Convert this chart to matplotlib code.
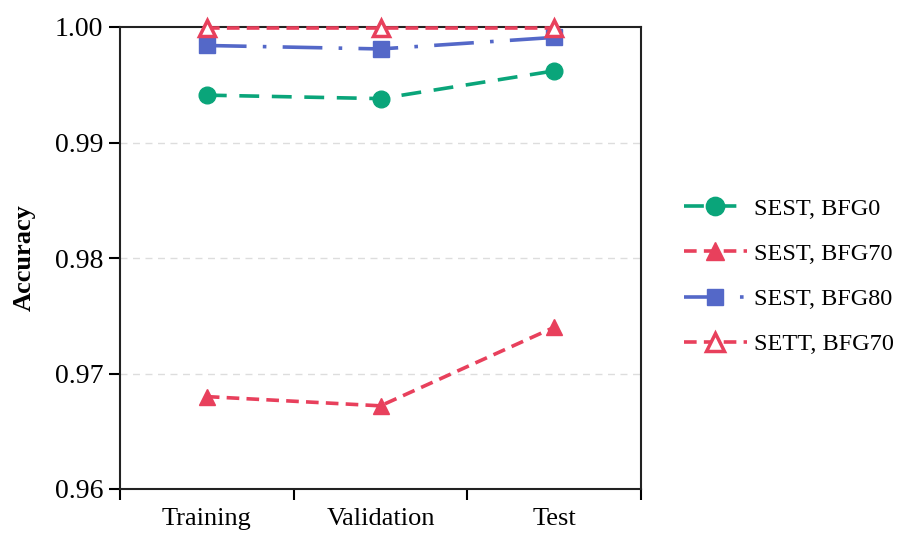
import matplotlib
matplotlib.use("Agg")
import matplotlib.pyplot as plt
import numpy as np

categories = ["Training", "Validation", "Test"]
sest_bfg0 = [0.9941, 0.9938, 0.9962]
sest_bfg70 = [0.9680, 0.9672, 0.9740]
sest_bfg80 = [0.9984, 0.9981, 0.9991]
sett_bfg70 = [0.9999, 0.9999, 0.9999]
yticks = [0.96, 0.97, 0.98, 0.99, 1.00]

plt.rcParams['font.family'] = ['Liberation Serif', 'DejaVu Serif']

fig = plt.figure(figsize=(9.19, 5.34), dpi=100)
ax = fig.add_axes([120/919, 1-489/534, (641-120)/919, (489-27)/534])

x = np.arange(len(categories)) + 0.5
green = "#0aa57a"
red = "#e8405c"
blue = "#5468c8"

ax.plot(x, sest_bfg0, color=green, ls=(0, (5.5, 3.5)), lw=2.6, marker='o', ms=12,
        label="SEST, BFG0", clip_on=False, zorder=3)
ax.plot(x, sest_bfg70, color=red, ls=(0, (3.5, 2)), lw=2.6, marker='^', ms=12,
        label="SEST, BFG70", clip_on=False, zorder=3)
ax.plot(x, sest_bfg80, color=blue, ls=(0, (11, 4.5, 1, 4.5)), lw=2.6, marker='s', ms=11,
        label="SEST, BFG80", clip_on=False, zorder=3)
ax.plot(x, sett_bfg70, color=red, ls=(0, (3.5, 2)), lw=2.6, marker='^', ms=12,
        markerfacecolor='white', markeredgewidth=2.5, label="SETT, BFG70",
        clip_on=False, zorder=4)

ax.set_xlim(0, 3)
ax.set_ylim(0.96, 1.00)
ax.set_yticks(yticks)
ax.set_yticklabels([f"{v:.2f}" for v in yticks])
ax.set_xticks([0, 1, 2, 3])
ax.set_xticklabels([])
ax.set_xticks(x, minor=True)
ax.set_xticklabels(categories, minor=True)
ax.tick_params(axis='x', which='minor', length=0, labelsize=19, pad=14)
ax.tick_params(axis='x', which='major', direction='out', length=8, width=1.5)
ax.tick_params(axis='y', direction='out', length=8, width=1.5, labelsize=20, pad=4)

for v in yticks[1:-1]:
    ax.axhline(v, color='#dddddd', lw=1, ls=(0, (5, 4)), zorder=0)

for s in ax.spines.values():
    s.set_linewidth(1.5)
    s.set_color('#222222')

ax.set_ylabel("Accuracy", fontsize=19, fontweight='bold', labelpad=14)

ax.legend(loc='center left', bbox_to_anchor=(1.04, 0.46), frameon=False,
          fontsize=17.5, handlelength=2.6, labelspacing=0.95, handletextpad=0.3,
          markerscale=1.1)

fig.savefig("out.png", dpi=100)
